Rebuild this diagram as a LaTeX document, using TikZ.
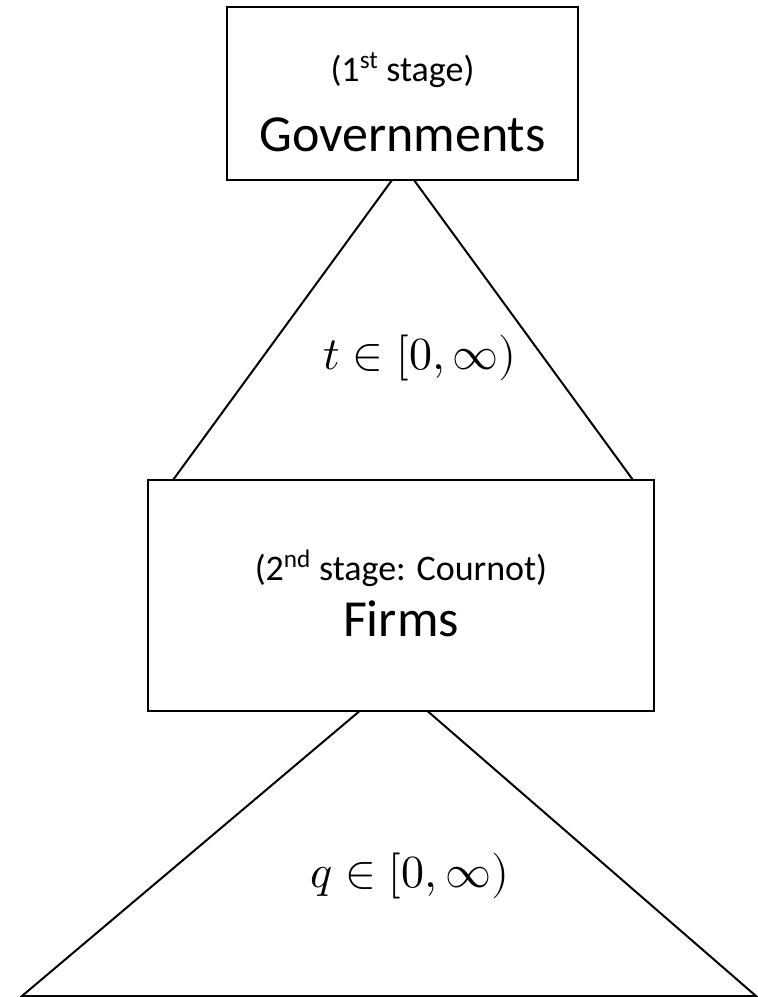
\documentclass[tikz,border=0pt]{standalone}
\usepackage{unicode-math}
\setmainfont{Carlito}
\setmathfont{Latin Modern Math}
\tikzset{
  stagebox/.style={draw, line width=2.2pt, fill=white, inner sep=0pt},
  branch/.style={line width=2pt},
  smalltxt/.style={font=\fontsize{36}{40}\selectfont, inner sep=0pt},
  bigtxt/.style={font=\fontsize{52}{58}\selectfont, inner sep=0pt},
  choice/.style={font=\fontsize{46}{52}\selectfont, inner sep=0pt}
}
\begin{document}
\begin{tikzpicture}[x=1pt, y=-1pt]
    \useasboundingbox (0, 0) rectangle (758, 997);
    % first stage branches
    \coordinate (TA) at (403, 165);
    \coordinate (TL) at (173, 480);
    \coordinate (TR) at (633, 480);
    \draw[branch] (TL) -- (TA) -- (TR);
    % second stage branches
    \coordinate (QA) at (394, 682);
    \coordinate (QL) at (22, 996);
    \coordinate (QR) at (756, 996);
    \draw[branch] (QA) -- (QL) -- (QR) -- cycle;
    % stages
    \node[stagebox, minimum width=351pt, minimum height=173pt] (G) at (402.5, 93.5) {};
    \node[smalltxt] (Gs) at (402.5, 70) {(1\textsuperscript{st} stage)};
    \node[bigtxt] (Gn) at (402.5, 135) {Governments};
    \node[stagebox, minimum width=506pt, minimum height=231pt] (F) at (401, 595.5) {};
    \node[smalltxt] (Fs) at (401, 568) {(2\textsuperscript{nd} stage: Cournot)};
    \node[bigtxt] (Fn) at (401, 619) {Firms};
    % actions
    \node[choice] (t) at (420, 358) {$t \in [0, \infty)$};
    \node[choice] (q) at (410, 876) {$q \in [0, \infty)$};
\end{tikzpicture}
\end{document}
